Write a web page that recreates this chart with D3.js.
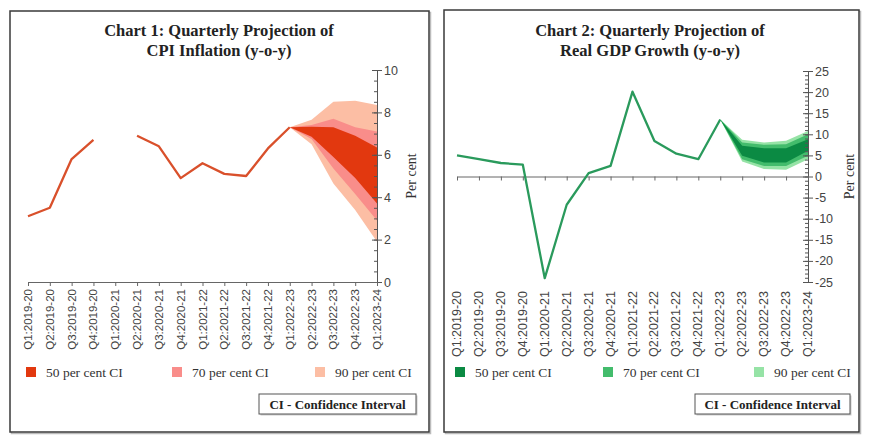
<!DOCTYPE html>
<html><head><meta charset="utf-8">
<script src="https://cdn.jsdelivr.net/npm/d3@7"></script>
<style>
html,body{margin:0;padding:0;background:#fff;}
svg{display:block;}
</style></head>
<body>
<svg id="c" width="870" height="435"></svg>
<script>
// ---------- DATA ----------
const quarters = ["Q1:2019-20","Q2:2019-20","Q3:2019-20","Q4:2019-20","Q1:2020-21","Q2:2020-21","Q3:2020-21","Q4:2020-21","Q1:2021-22","Q2:2021-22","Q3:2021-22","Q4:2021-22","Q1:2022-23","Q2:2022-23","Q3:2022-23","Q4:2022-23","Q1:2023-24"];
const cpiActual = [3.1,3.5,5.8,6.7,null,6.9,6.4,4.9,5.6,5.1,5.0,6.3,7.3];
const fanQuarters = ["Q1:2022-23","Q2:2022-23","Q3:2022-23","Q4:2022-23","Q1:2023-24"];
const cpi90Lo = [7.3,6.5,4.65,3.4,1.9];
const cpi90Hi = [7.3,7.65,8.5,8.55,8.35];
const cpi70Lo = [7.3,6.75,5.35,4.15,2.9];
const cpi70Hi = [7.3,7.4,7.7,7.3,7.1];
const cpi50Lo = [7.3,6.85,5.9,4.9,3.7];
const cpi50Hi = [7.3,7.32,7.3,6.9,6.35];
const cpiTicks = [0,2,4,6,8,10];

const gdpActual = [5.0,4.1,3.2,2.8,-24.1,-6.7,0.8,2.5,20.1,8.4,5.4,4.1,13.5];
const gdp90Lo = [13.5,3.55,1.75,1.6,4.1];
const gdp90Hi = [13.5,8.7,8.05,8.45,10.8];
const gdp70Lo = [13.5,4.1,2.5,2.5,4.9];
const gdp70Hi = [13.5,8.05,7.5,7.65,10.0];
const gdp50Lo = [13.5,4.9,3.3,3.3,6.1];
const gdp50Hi = [13.5,7.3,6.7,6.7,8.85];
const gdpTicks = [-25,-20,-15,-10,-5,0,5,10,15,20,25];

const legendLabels = ["50 per cent CI","70 per cent CI","90 per cent CI"];
const cpiColors = {line:"#D9502B", c50:"#E2380F", c70:"#F98D8A", c90:"#FCBEA4"};
const gdpColors = {line:"#2A9A5C", c50:"#0B8A43", c70:"#43BC6C", c90:"#96E3A6"};

// ---------- DRAW ----------
const svg = d3.select("#c");
const serif = "'Liberation Serif', 'DejaVu Serif', serif";
const sans = "'Liberation Sans', Arial, sans-serif";

function panel(p){
  const g = svg.append("g");
  g.append("rect").attr("x",p.bx+1.5).attr("y",p.by+1.5).attr("width",p.bw).attr("height",p.bh)
    .attr("fill","none").attr("stroke","#bbb").attr("stroke-width",1.5);
  g.append("rect").attr("x",p.bx).attr("y",p.by).attr("width",p.bw).attr("height",p.bh)
    .attr("fill","#fff").attr("stroke","#3a3a3a").attr("stroke-width",1.5);

  // titles
  p.title.forEach((t,i)=>{
    g.append("text").attr("x",p.tx).attr("y",p.ty+i*20).attr("text-anchor","middle")
      .attr("font-family",serif).attr("font-weight","bold").attr("font-size",16.5).attr("fill","#222").text(t);
  });

  const x = d3.scalePoint().domain(quarters).range(p.xr);
  const y = d3.scaleLinear().domain(p.yd).range(p.yr);

  // fans
  const area = (lo,hi)=> d3.area().x((d,i)=>x(fanQuarters[i])).y0((d,i)=>y(lo[i])).y1((d,i)=>y(hi[i]));
  [["c90",p.f90],["c70",p.f70],["c50",p.f50]].forEach(([c,f])=>{
    g.append("path").datum(f[0]).attr("d",area(f[0],f[1])).attr("fill",p.colors[c]);
  });

  // y axis
  const ax = g.append("g").attr("transform",`translate(${p.xr[1]},0)`);
  const [d0,d1] = p.yd;
  const minor = d3.range(d0,d1+1e-9,p.minorStep);
  ax.call(d3.axisLeft(y).tickValues(minor).tickSize(3).tickFormat(""));
  ax.append("g").call(d3.axisLeft(y).tickValues(p.ticks).tickSize(5).tickFormat(""));
  ax.append("g").call(d3.axisRight(y).tickValues(p.ticks).tickSize(5).tickPadding(2).tickFormat(d=>String(d)));
  ax.selectAll("path.domain").attr("stroke","#555");
  ax.selectAll("line").attr("stroke","#555");
  ax.selectAll("text").attr("font-family",sans).attr("font-size",12.5).attr("fill","#444");

  // x axis
  const xa = g.append("g").attr("transform",`translate(0,${y(p.xAxisAt)})`)
    .call(d3.axisBottom(x).tickSize(4).tickSizeOuter(0).tickFormat(""));
  xa.select("path.domain").attr("stroke","#666");
  xa.selectAll("line").attr("stroke","#666");

  // x labels
  g.append("g").selectAll("text").data(quarters).join("text")
    .attr("transform",d=>`translate(${x(d)+4},${p.labY}) rotate(-90)`)
    .attr("text-anchor","end").attr("font-family",sans).attr("font-size",p.labSize).attr("fill","#444").text(d=>d);

  // y title
  g.append("text").attr("transform",`translate(${p.ytx},${(p.yr[0]+p.yr[1])/2}) rotate(-90)`)
    .attr("text-anchor","middle").attr("font-family",serif).attr("font-size",14).attr("fill","#333").text("Per cent");

  // line
  const line = d3.line().defined(d=>d!==null).x((d,i)=>x(quarters[i])).y(d=>y(d));
  g.append("path").datum(p.actual).attr("d",line).attr("fill","none")
    .attr("stroke",p.colors.line).attr("stroke-width",2.3).attr("stroke-linejoin","round");

  // legend
  ["c50","c70","c90"].forEach((c,i)=>{
    const lx = p.legX[i];
    g.append("rect").attr("x",lx).attr("y",367).attr("width",10).attr("height",10).attr("fill",p.colors[c]);
    g.append("text").attr("x",lx+20).attr("y",377).attr("font-family",serif).attr("font-size",13.5).attr("fill","#333").text(legendLabels[i]);
  });
  g.append("rect").attr("x",p.ciBox[0]+1.5).attr("y",394+1.5).attr("width",p.ciBox[1]).attr("height",20)
    .attr("fill","#ccc");
  g.append("rect").attr("x",p.ciBox[0]).attr("y",394).attr("width",p.ciBox[1]).attr("height",20)
    .attr("fill","#fff").attr("stroke","#555").attr("stroke-width",1);
  g.append("text").attr("x",p.ciBox[0]+p.ciBox[1]/2).attr("y",409).attr("text-anchor","middle")
    .attr("font-family",serif).attr("font-weight","bold").attr("font-size",13).attr("fill","#222").text("CI - Confidence Interval");
}

panel({bx:10,by:11,bw:419,bh:421,tx:219,ty:36,title:["Chart 1: Quarterly Projection of","CPI Inflation (y-o-y)"],
  xr:[28,377],yd:[0,10],yr:[282,70],ticks:cpiTicks,minorStep:0.5,xAxisAt:0,
  f90:[cpi90Lo,cpi90Hi],f70:[cpi70Lo,cpi70Hi],f50:[cpi50Lo,cpi50Hi],colors:cpiColors,actual:cpiActual,
  labY:289,labSize:11.5,ytx:416,legX:[26,172,315],ciBox:[259,157]});

panel({bx:444,by:10,bw:415,bh:422,tx:650,ty:36,title:["Chart 2: Quarterly Projection of","Real GDP Growth (y-o-y)"],
  xr:[457,808],yd:[-25,25],yr:[282,71],ticks:gdpTicks,minorStep:1,xAxisAt:0,
  f90:[gdp90Lo,gdp90Hi],f70:[gdp70Lo,gdp70Hi],f50:[gdp50Lo,gdp50Hi],colors:gdpColors,actual:gdpActual,
  labY:291,labSize:12.5,ytx:854,legX:[455,603,754],ciBox:[695,155]});
</script>
</body></html>
